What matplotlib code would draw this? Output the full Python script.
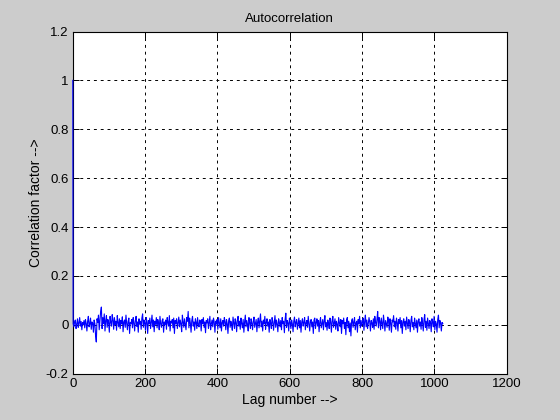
import numpy as np
import matplotlib
matplotlib.use("Agg")
import matplotlib.pyplot as plt

# Autocorrelation values (in thousandths); lag 0 first, then one value every 2 lags, read/
corr_milli = [
    1000,
    5, -8, 12, 20, -15, 3, 25, -10, 8, 30, -5, 14, -20, 10, 2, 18,
    -12, 22, 6, -25, 15, 35, -8, 4, 28, -18, 12, 9, -30, 20, 5, -45,
    -70, 25, 10, 40, -20, 15, 55, 73, -15, 30, 5, 45, -25, 18, 38, -10,
    22, 8, -30, 35, 12, -5, 42, 20, -18, 30, 2, 15, -22, 38, 10, -8,
    25, -15, 18, 4, 33, -28, 12, 20, -10, 40, 6, -20, 15, 28, -35, 10,
    5, 22, -12, 30, 8, -25, 18, 35, -6, 12, -30, 25, 3, 15, -18, 28,
    45, -10, 20, 8, -22, 30, 12, -35, 18, 5, 28, -15, 10, 40, -8, 20,
    -28, 15, 3, 30, -12, 22, 8, -20, 35, 5, -10, 18, 25, -30, 12, 2,
    20, -18, 30, 10, -5, 38, -25, 15, 8, 22, -12, 28, -35, 18, 6, 25,
    -15, 10, 32, -8, 20, 5, -28, 40, 12, -10, 25, 3, -20, 30, 15, 55,
    -12, 28, 8, -30, 18, 35, -5, 12, -22, 25, 10, -15, 30, 2, -8, 20,
    15, -25, 22, 5, 30, -10, 12, -32, 18, 8, 25, -15, 10, 35, -20, 5,
    20, -8, 28, 12, -30, 15, 3, 22, -18, 30, 8, -12, 25, -25, 10, 18,
    -5, 30, 12, -20, 22, 5, -35, 18, 28, -10, 15, 2, -22, 32, 8, -15,
    25, 10, -28, 20, 35, -5, 15, -18, 28, 6, -12, 22, -30, 12, 40, -8,
    18, 3, -25, 30, 10, -15, 25, 8, -20, 15, 32, -10, 5, 22, -28, 12,
    28, -12, 18, 45, -8, 15, -25, 20, 5, 35, -18, 10, 25, -5, 12, -30,
    22, 8, -15, 30, 15, -22, 10, 38, -10, 20, 3, -28, 25, 12, -8, 18,
    -20, 30, 5, 15, -32, 22, 48, -10, 18, 8, -25, 28, 12, -15, 20, 5,
    -28, 15, 32, -8, 10, 22, -18, 5, 28, -12, 18, -30, 12, 25, -5, 10,
    30, -20, 8, 18, -10, 35, 5, -25, 15, 22, -8, 12, -35, 20, 28, -15,
    10, 25, -5, 18, -28, 12, 30, -12, 5, 22, -20, 15, 38, -8, 10, -22,
    20, 6, -15, 28, 12, -30, 18, 35, -10, 8, 25, -18, 15, 2, -25, 30,
    12, -8, 22, -35, 18, 5, 28, -15, 10, -40, 20, 30, -12, 15, -28, 8,
    -45, 18, 25, -10, 12, 30, -20, 8, 15, -30, 22, 5, 35, -12, 18, -5,
    10, 28, -22, 15, 40, -8, 20, -15, 5, 30, 12, -25, 18, 8, -10, 25,
    -18, 35, 10, -5, 22, 55, -12, 30, 15, -20, 28, 8, -15, 40, 12, -25,
    18, 5, -10, 32, 15, -22, 25, 8, -30, 20, 12, 38, -8, 15, -18, 28,
    10, -25, 22, 5, 30, -12, 18, -35, 12, 25, -5, 15, -20, 32, 8, -15,
    22, 12, -28, 18, 35, -8, 10, -20, 28, 5, -12, 20, -30, 15, 25, -5,
    12, -18, 30, 8, -25, 20, 42, -10, 15, -22, 28, 5, -15, 18, 10, -28,
    25, 12, -8, 35, -20, 15, 5, -30, 22, 40, -12, 18, 8, -25, 10, 5,
]
lag_step = 2
x_ticks = [0, 200, 400, 600, 800, 1000, 1200]
y_ticks = [-0.2, 0, 0.2, 0.4, 0.6, 0.8, 1, 1.2]
y_tick_labels = ["-0.2", "0", "0.2", "0.4", "0.6", "0.8", "1", "1.2"]

corr = np.array(corr_milli) / 1000.0
lags = np.concatenate([[0], 1 + np.arange(len(corr) - 1) * lag_step])

plt.rcParams['font.family'] = ['Liberation Sans', 'DejaVu Sans']
fig = plt.figure(figsize=(5.6, 4.2), dpi=100, facecolor='#cccccc')
ax = fig.add_axes([0.13, 0.11, 0.775, 0.815])
ax.set_facecolor('white')
ax.grid(True, color='black', linestyle=(0, (3, 4)), linewidth=0.7, zorder=1)
ax.set_axisbelow(True)
ax.plot(lags, corr, color='#0000ff', linewidth=0.8, zorder=3, clip_on=False)
ax.set_xlim(0, 1200)
ax.set_ylim(-0.2, 1.2)
ax.set_xticks(x_ticks)
ax.set_xticklabels([str(t) for t in x_ticks])
ax.set_yticks(y_ticks)
ax.set_yticklabels(y_tick_labels)
ax.tick_params(direction='in', top=True, right=True, labelsize=9.5, length=4, width=0.7, pad=3)
for s in ax.spines.values():
    s.set_linewidth(0.8)
    s.set_zorder(2)
ax.set_title("Autocorrelation", fontsize=9.5, pad=7)
ax.set_xlabel("Lag number -->", fontsize=10, labelpad=2)
ax.set_ylabel("Correlation factor -->", fontsize=10, labelpad=2)
fig.savefig("out.png", dpi=100, facecolor=fig.get_facecolor())
